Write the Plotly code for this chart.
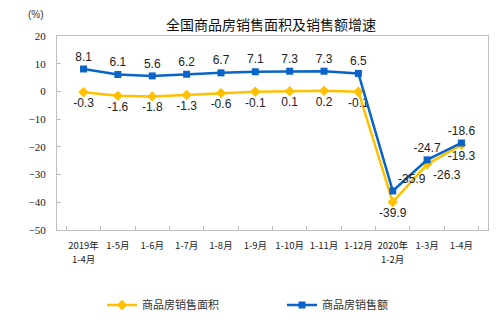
import plotly.graph_objects as go

categories = ["2019年1-4月", "1-5月", "1-6月", "1-7月", "1-8月", "1-9月",
              "1-10月", "1-11月", "1-12月", "2020年1-2月", "1-3月", "1-4月"]
tick_line1 = ["2019年", "1-5月", "1-6月", "1-7月", "1-8月", "1-9月",
              "1-10月", "1-11月", "1-12月", "2020年", "1-3月", "1-4月"]
tick_line2 = ["1-4月", "", "", "", "", "", "", "", "", "1-2月", "", ""]
area_growth = [-0.3, -1.6, -1.8, -1.3, -0.6, -0.1, 0.1, 0.2, -0.1, -39.9, -26.3, -19.3]
sales_growth = [8.1, 6.1, 5.6, 6.2, 6.7, 7.1, 7.3, 7.3, 6.5, -35.9, -24.7, -18.6]

YELLOW = "#FFC000"
BLUE = "#0A64C8"
label_font = dict(family="Liberation Sans, Arial", size=12, color="#222222")
tick_font = dict(family="Noto Sans CJK SC", size=9.5, color="#222222")

area_pos = ["bottom center"] * 9 + ["bottom center", "bottom right", "bottom center"]
sales_pos = ["top center"] * 9 + ["top right", "top center", "top center"]

fig = go.Figure()
fig.add_trace(go.Scatter(
    x=categories, y=area_growth, name="商品房销售面积",
    mode="lines+markers+text",
    line=dict(color=YELLOW, width=2.5),
    marker=dict(symbol="diamond", size=8, color=YELLOW),
    text=[f"{v:.1f}" for v in area_growth], textposition=area_pos,
    textfont=label_font, cliponaxis=False, legend="legend",
))
fig.add_trace(go.Scatter(
    x=categories, y=sales_growth, name="商品房销售额",
    mode="lines+markers+text",
    line=dict(color=BLUE, width=2.5),
    marker=dict(symbol="square", size=7, color=BLUE),
    text=[f"{v:.1f}" for v in sales_growth], textposition=sales_pos,
    textfont=label_font, cliponaxis=False, legend="legend2",
))

legend_style = dict(orientation="h", xref="container", yref="container",
                    y=1 - 305 / 323, xanchor="left", yanchor="middle",
                    font=dict(size=11, color="#333333"), itemwidth=30,
                    bgcolor="rgba(0,0,0,0)")

fig.update_layout(
    width=500, height=323,
    margin=dict(l=57, r=12, t=36, b=93),
    paper_bgcolor="white", plot_bgcolor="white",
    font=dict(family="Noto Sans CJK SC", color="#222222"),
    title=dict(text="全国商品房销售面积及销售额增速", x=271 / 500, xanchor="center",
               y=1 - 25 / 323, yanchor="middle", xref="container", yref="container",
               font=dict(size=14, color="#111111")),
    showlegend=True,
    legend=dict(x=102 / 500, **legend_style),
    legend2=dict(x=282 / 500, **legend_style),
    xaxis=dict(type="category", showline=True, linecolor="#BFBFBF", linewidth=1,
               mirror=True, ticks="inside", ticklen=4, tickcolor="#BFBFBF",
               tickson="boundaries", showgrid=False, zeroline=False, tickangle=0,
               tickmode="array", tickvals=categories, ticktext=tick_line1,
               tickfont=tick_font, ticklabelstandoff=7),
    yaxis=dict(range=[-50, 20], dtick=10, showline=True, linecolor="#BFBFBF",
               linewidth=1, mirror=True, ticks="inside", ticklen=4,
               tickcolor="#BFBFBF", showgrid=False, zeroline=False,
               ticklabelstandoff=8,
               tickfont=dict(family="Liberation Serif, Times New Roman", size=11,
                             color="#222222")),
)

# second line of the two-row category labels
for cat, line2 in zip(categories, tick_line2):
    if line2:
        fig.add_annotation(text=line2, x=cat, xref="x", y=-50, yref="y",
                           yshift=-29, showarrow=False, xanchor="center",
                           yanchor="middle", font=tick_font)

fig.add_annotation(text="(%)", xref="paper", yref="paper", x=-21 / 431, y=1.11,
                   showarrow=False, xanchor="center", yanchor="middle",
                   font=dict(family="Liberation Sans", size=10, color="#333333"))

fig.write_html("out.html")
